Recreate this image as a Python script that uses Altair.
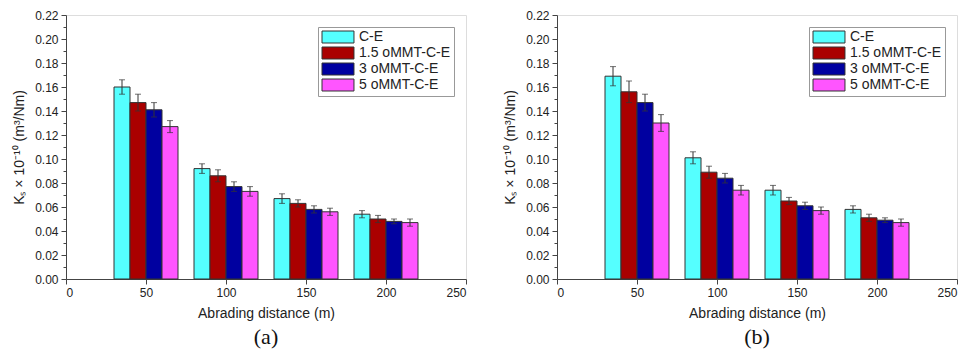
import altair as alt
import pandas as pd

series = ["C-E", "1.5 oMMT-C-E", "3 oMMT-C-E", "5 oMMT-C-E"]
colors = ["#55FFFF", "#AA0000", "#0000A0", "#FF55FF"]
distances = [50, 100, 150, 200]

# panel (a)
a_vals = {
    "C-E": [0.160, 0.092, 0.067, 0.054],
    "1.5 oMMT-C-E": [0.147, 0.086, 0.063, 0.050],
    "3 oMMT-C-E": [0.141, 0.077, 0.058, 0.048],
    "5 oMMT-C-E": [0.127, 0.073, 0.056, 0.047],
}
a_errs = {
    "C-E": [0.006, 0.004, 0.004, 0.003],
    "1.5 oMMT-C-E": [0.007, 0.005, 0.003, 0.003],
    "3 oMMT-C-E": [0.006, 0.004, 0.003, 0.002],
    "5 oMMT-C-E": [0.005, 0.004, 0.003, 0.003],
}
# panel (b)
b_vals = {
    "C-E": [0.169, 0.101, 0.074, 0.058],
    "1.5 oMMT-C-E": [0.156, 0.089, 0.065, 0.051],
    "3 oMMT-C-E": [0.147, 0.084, 0.061, 0.049],
    "5 oMMT-C-E": [0.130, 0.074, 0.057, 0.047],
}
b_errs = {
    "C-E": [0.008, 0.005, 0.004, 0.003],
    "1.5 oMMT-C-E": [0.009, 0.005, 0.003, 0.003],
    "3 oMMT-C-E": [0.007, 0.004, 0.003, 0.002],
    "5 oMMT-C-E": [0.007, 0.004, 0.003, 0.003],
}

y_ticks = [0.00, 0.01, 0.02, 0.03, 0.04, 0.05, 0.06, 0.07, 0.08, 0.09, 0.10,
           0.11, 0.12, 0.13, 0.14, 0.15, 0.16, 0.17, 0.18, 0.19, 0.20, 0.21, 0.22]
x_ticks = [0, 50, 100, 150, 200, 250]

BAR_W = 10
FONT = "Liberation Sans"


def make_df(vals, errs):
    rows = []
    for i, s in enumerate(series):
        for j, d in enumerate(distances):
            rows.append({"distance": d, "series": s, "idx": i,
                         "value": vals[s][j], "err": errs[s][j]})
    return pd.DataFrame(rows)


# wide legend swatch: unit = sqrt(size)/2 px
legend_path = "M-1,-1L4.33,-1L4.33,1L-1,1Z"

xscale = alt.Scale(domain=[0, 250], nice=False)
yscale = alt.Scale(domain=[0, 0.22], nice=False)
xaxis = alt.Axis(values=x_ticks, title="Abrading distance (m)", grid=False,
                 tickSize=5, labelFont=FONT, labelFontSize=12, titleFont=FONT,
                 titleFontSize=14, titleFontWeight="normal", labelColor="#222",
                 titleColor="#222", domainColor="#444", tickColor="#444",
                 titlePadding=8, labelPadding=3, labelOverlap=False)
yaxis = alt.Axis(values=y_ticks, title="Kₛ × 10⁻¹⁰ (m³/Nm)", grid=False,
                 tickSize={"condition": {"test": "round(datum.value*100) % 2 === 0", "value": 5}, "value": 3},
                 labelExpr="round(datum.value*100) % 2 === 0 ? format(datum.value, '.2f') : ''",
                 labelOverlap=False, labelFont=FONT, labelFontSize=12,
                 titleFont=FONT, titleFontSize=14, titleFontWeight="normal",
                 labelColor="#222", titleColor="#222", domainColor="#444",
                 tickColor="#444", titlePadding=8, labelPadding=3)


def panel(df, label, height):
    base = alt.Chart(df).transform_calculate(
        x0=f"datum.distance - {2*BAR_W} + {BAR_W} * datum.idx",
        x1=f"datum.distance - {BAR_W} + {BAR_W} * datum.idx",
        xc=f"datum.distance - {1.5*BAR_W} + {BAR_W} * datum.idx",
        lo="datum.value - datum.err",
        hi="datum.value + datum.err",
    )
    bars = base.mark_bar(stroke="#333", strokeWidth=1, opacity=1).encode(
        x=alt.X("x0:Q", scale=xscale, axis=xaxis),
        x2="x1:Q",
        y=alt.Y("value:Q", scale=yscale, axis=yaxis),
        y2=alt.datum(0),
        color=alt.Color("series:N", scale=alt.Scale(domain=series, range=colors),
                        sort=series,
                        legend=alt.Legend(title=None, orient="top-right", offset=12,
                                          symbolType=legend_path, symbolSize=144,
                                          symbolStrokeColor="#333", symbolStrokeWidth=1,
                                          symbolOpacity=1,
                                          labelFont=FONT, labelFontSize=14,
                                          labelColor="#222",
                                          strokeColor="#999", fillColor="white",
                                          padding=3, rowPadding=0, labelOffset=24)),
    )
    rules = base.mark_rule(color="#333", strokeWidth=1).encode(
        x=alt.X("xc:Q", scale=xscale, axis=xaxis),
        y=alt.Y("lo:Q", scale=yscale, axis=yaxis), y2="hi:Q")
    caps_hi = base.mark_tick(color="#333", orient="horizontal", size=6, thickness=1).encode(
        x=alt.X("xc:Q", scale=xscale, axis=xaxis),
        y=alt.Y("hi:Q", scale=yscale, axis=yaxis))
    caps_lo = base.mark_tick(color="#333", orient="horizontal", size=6, thickness=1).encode(
        x=alt.X("xc:Q", scale=xscale, axis=xaxis),
        y=alt.Y("lo:Q", scale=yscale, axis=yaxis))
    return alt.layer(bars, rules, caps_hi, caps_lo).properties(
        width=400, height=height,
        title=alt.TitleParams(label, orient="bottom", font="Liberation Serif",
                              fontSize=22, fontWeight="normal", color="#111",
                              frame="group", anchor="middle", offset=7),
    )


pa = panel(make_df(a_vals, a_errs), "(a)", 264)
pb = panel(make_df(b_vals, b_errs), "(b)", 264)

chart = alt.hconcat(pa, pb, spacing=36).resolve_scale(color="independent").properties(
    padding={"left": 4, "top": 0, "right": 0, "bottom": 0}
).configure_view(stroke="#444", strokeWidth=1).configure_axis(
    labelOverlap=False
).configure(background="white")

chart.save("out.html", embed_options={"renderer": "svg", "actions": False})
